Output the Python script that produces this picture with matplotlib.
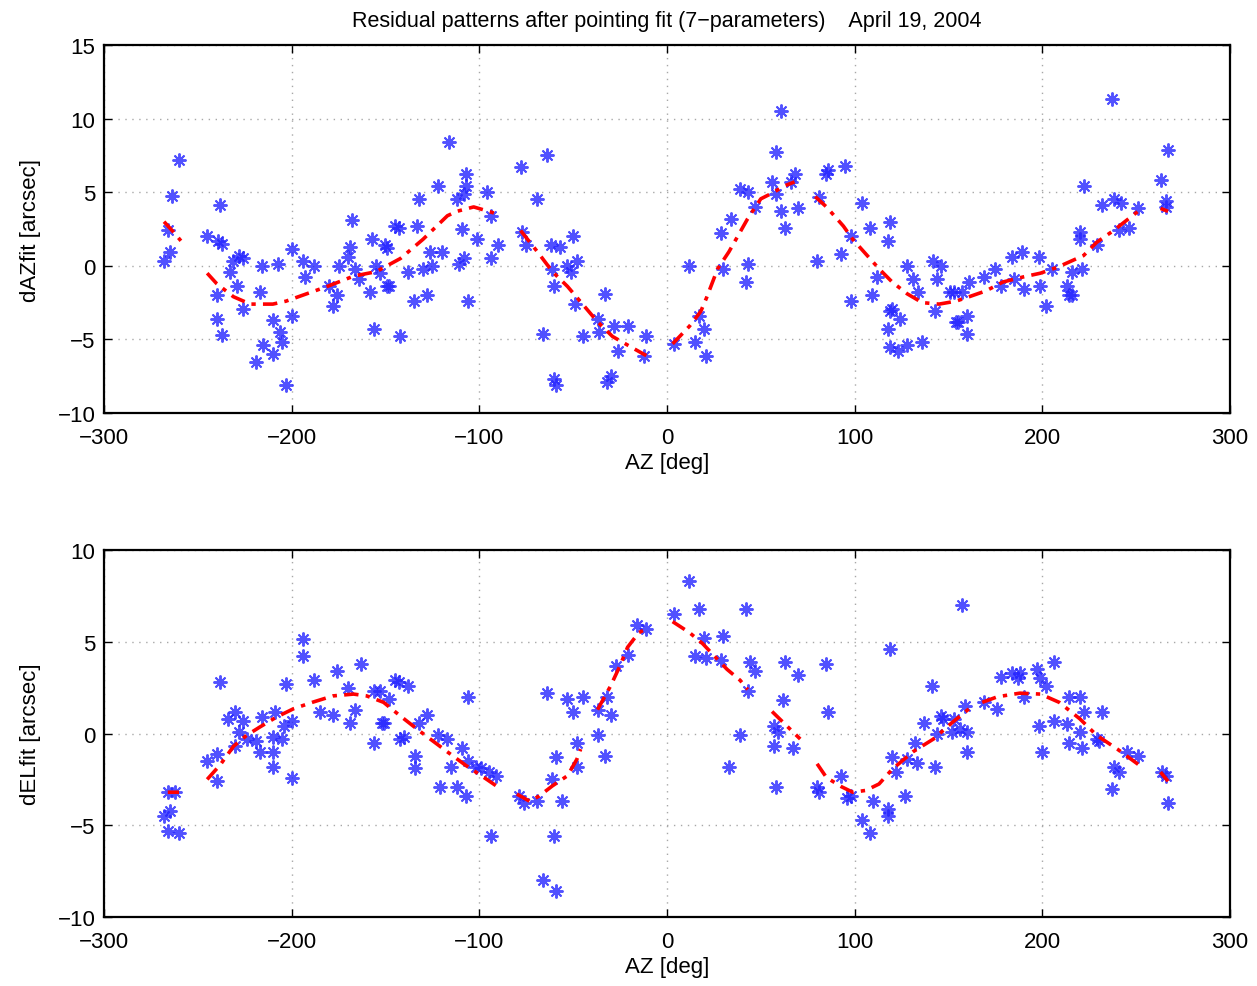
import numpy as np
import matplotlib.pyplot as plt

plt.rcParams['font.family'] = ['Liberation Sans', 'DejaVu Sans']

# residuos en azimut (panel superior)
az_top = [-260, -264, -266, -265, -268, -238, -245, -239, -237, -240, -240, -237,
          -229, -228, -231, -233, -226, -226, -217, -216, -219, -215, -210, -210,
          -207, -206, -205, -200, -203, -200, -194, -193, -188, -178, -176, -180,
          -175, -168, -169, -170, -166, -164, -158, -157, -155, -153, -150, -149,
          -156, -145, -142, -148, -143, -149, -135, -138, -132, -133, -130, -128,
          -126, -125, -122, -120, -116, -112, -111, -109, -108, -107, -107, -108,
          -106, -101, -96, -94, -94, -90, -78, -64, -69, -77, -75, -62, -57, -50,
          -61, -53, -48, -51, -60, -49, -66, -59, -60, -45, -37, -33, -36, -28,
          -21, -26, -32, -30, -11, -12, 4,
          12, 17, 20, 15, 21, 30, 29, 34, 39, 43, 47, 43, 42, 58, 61, 56, 58, 61,
          63, 68, 66, 70, 80, 81, 85, 86, 95, 93, 98, 98, 104, 108, 109, 112, 118,
          119, 119, 120, 118, 119, 123, 128, 124, 128, 131, 134, 136, 142, 146,
          144, 143, 151, 154, 153, 157, 155, 160, 160, 161, 169, 175, 178, 184,
          189, 185, 190, 198, 199, 202, 205, 213, 214, 216, 216, 221, 220, 220,
          222, 229, 232, 237, 238, 242, 241, 246, 251, 263, 267, 266, 266]
daz_top = [7.2, 4.75, 2.4, 0.95, 0.3, 4.1, 2.0, 1.7, 1.5, -2.0, -3.6, -4.7,
           -1.4, 0.7, 0.3, -0.4, 0.5, -2.9, -1.8, 0.0, -6.5, -5.4, -6.0, -3.7,
           0.1, -4.5, -5.2, -3.4, -8.1, 1.15, 0.35, -0.75, 0.0, -2.7, -2.0, -1.4,
           0.0, 3.1, 1.3, 0.6, -0.2, -0.9, -1.8, 1.8, 0.0, -0.5, 1.4, -1.4,
           -4.3, 2.7, -4.8, -1.4, 2.6, 1.2, -2.4, -0.4, 4.55, 2.7, -0.2, -2.0,
           0.95, 0.0, 5.4, 0.95, 8.4, 4.55, 0.1, 2.5, 0.5, 6.25, 5.4, 4.9,
           -2.4, 1.8, 5.0, 3.4, 0.5, 1.4, 6.7, 7.5, 4.55, 2.3, 1.4, 1.4, 1.3, 2.0,
           -0.2, 0.0, 0.3, -0.4, -1.4, -2.6, -4.6, -8.1, -7.7, -4.8, -3.6, -1.9, -4.5, -4.1,
           -4.1, -5.8, -7.9, -7.5, -4.8, -6.1, -5.3,
           0.0, -3.4, -4.3, -5.2, -6.1, -0.2, 2.2, 3.2, 5.2, 5.0, 4.0, 0.1, -1.1, 7.7, 10.5, 5.7, 4.9, 3.7,
           2.6, 6.25, 5.7, 3.9, 0.3, 4.7, 6.25, 6.5, 6.8, 0.8, 2.0, -2.4, 4.3, 2.6, -2.0, -0.75, 1.7,
           3.0, -3.1, -2.9, -4.3, -5.5, -5.8, -5.4, -3.6, 0.0, -0.9, -1.8, -5.2, 0.3, 0.0,
           -0.9, -3.1, -1.8, -3.8, -1.8, -1.8, -3.8, -3.4, -4.6, -1.1, -0.75, -0.2, -1.4, 0.6,
           0.95, -0.9, -1.6, 0.6, -1.4, -2.7, -0.2, -1.4, -2.0, -2.0, -0.4, -0.2, 2.3, 1.8,
           5.4, 1.4, 4.1, 11.3, 4.55, 4.3, 2.4, 2.6, 3.9, 5.8, 7.9, 4.4, 4.0]

# curva del ajuste (panel superior), NaN separa los tramos
az_fit_top = [-268, -263, -259, np.nan,
              -245, -240, -231, -222, -210, -203, -192, -181, -167, -155, -142,
              -130, -117, -112, -103, -95, -90, np.nan,
              -78, -69, -61, -53, -45, -37, -29, -18, -11, np.nan,
              3, 12, 18, 21, 27, 33, 39, 43, 50, 57, 62, 68, np.nan,
              79, 85, 94, 99, 106, 113, 120, 128, 136, 145, 154, 161, 170, 179,
              190, 199, 208, 222, 229, 238, 246, 251, np.nan,
              263, 267]
daz_fit_top = [3.0, 2.3, 1.7, np.nan,
               -0.5, -1.2, -2.1, -2.6, -2.6, -2.4, -1.9, -1.4, -0.7, -0.4, 0.5,
               1.8, 3.4, 3.7, 4.0, 3.7, 3.5, np.nan,
               2.4, 0.95, -0.4, -1.4, -2.6, -3.8, -4.8, -5.6, -6.1, np.nan,
               -5.3, -4.1, -3.1, -2.2, -0.2, 0.95, 2.3, 3.2, 4.55, 5.0, 5.4, 5.7, np.nan,
               4.7, 4.0, 2.7, 1.8, 0.8, -0.2, -1.1, -1.9, -2.5, -2.6, -2.4, -2.1, -1.7, -1.1,
               -0.75, -0.5, -0.1, 0.7, 1.6, 2.4, 3.2, 3.7, np.nan,
               3.9, 3.7]

# residuos en elevación (panel inferior)
az_bot = [-266, -265, -268, -266, -260, -262, -240, -245, -240, -238, -234, -230,
          -226, -228, -230, -224, -219, -217, -216, -210, -210, -210, -209, -205,
          -204, -203, -200, -200, -194, -194, -188, -185, -178, -176, -170, -169,
          -166, -163, -156, -152, -156, -148, -145, -142, -153, -143, -138, -151,
          -140, -134, -134, -132, -128, -122, -117, -121, -115, -112, -109, -106,
          -106, -107, -102, -99, -95, -91, -94, -79, -76, -69, -64, -61, -59, -56,
          -60, -66, -59, -53, -50, -48, -45, -48, -37, -37, -30, -33, -32, -27,
          -21, -16, -11, 4,
          12, 17, 42, 20, 15, 21, 30, 29, 43, 44, 47, 63, 70, 62, 85, 86, 39, 33,
          57, 59, 57, 67, 58, 80, 81, 93, 96, 98, 104, 108, 110, 118, 118, 119,
          120, 122, 127, 128, 133, 132, 137, 141, 143, 144, 147, 152, 157,
          146, 153, 156, 160, 159, 160, 169, 176, 178, 184, 188, 187, 190, 197,
          199, 206, 202, 198, 200, 206, 213, 214, 220, 222, 220, 214, 221, 232,
          229, 230, 238, 241, 237, 245, 251, 264, 266, 267]
del_bot = [-3.2, -4.2, -4.5, -5.3, -5.4, -3.2, -2.6, -1.5, -1.1, 2.8, 0.8, 1.2,
           0.7, 0.1, -0.7, -0.3, -0.4, -1.0, 0.9, -0.2, -1.0, -1.8, 1.2, -0.3,
           0.4, 2.7, 0.7, -2.4, 5.15, 4.2, 2.9, 1.2, 1.0, 3.4, 2.5, 0.6,
           1.3, 3.8, 2.3, 0.6, -0.5, 1.9, 2.9, -0.3, 2.3, 2.8, 2.6, 0.6,
           -0.2, -1.2, -1.9, 0.6, 1.0, -0.1, -0.3, -2.9, -1.8, -2.9, -0.8, 2.0,
           -1.5, -3.4, -1.8, -1.9, -2.1, -2.3, -5.6, -3.4, -3.8, -3.7, 2.2, -2.5, -1.3, -3.7,
           -5.6, -8.0, -8.6, 1.9, 1.2, -0.5, 2.0, -1.8, 1.3, -0.1, 1.0, -1.2, 2.0, 3.7,
           4.3, 5.9, 5.7, 6.5,
           8.3, 6.8, 6.8, 5.2, 4.2, 4.1, 5.3, 4.0, 2.3, 3.9, 3.4, 3.9, 3.2, 1.8, 3.8, 1.2, -0.1, -1.8,
           0.4, 0.1, -0.7, -0.8, -2.9, -2.9, -3.2, -2.3, -3.5, -3.4, -4.7, -5.4, -3.7, -4.1, -4.5, 4.6,
           -1.3, -2.1, -3.4, -1.4, -1.6, -0.5, 0.6, 2.6, -1.8, 0.0, 0.8, 0.1, 7.0,
           0.95, 0.8, 0.25, 0.1, 1.5, -1.0, 1.7, 1.35, 3.1, 3.3, 3.3, 3.0, 2.0, 3.5,
           3.0, 3.9, 2.6, 0.4, -1.0, 0.7, 0.5, 2.0, 2.0, 1.2, 0.1, -0.5, -0.8, 1.2,
           -0.3, -0.4, -1.8, -2.1, -3.0, -1.0, -1.2, -2.1, -2.3, -3.8]

# curva del ajuste (panel inferior)
az_fit_bot = [-266, -260, np.nan,
              -245, -238, -231, -224, -217, -208, -199, -189, -178, -167, -160,
              -151, -142, -132, -117, -107, -96, -91, np.nan,
              -80, -73, -68, -61, -53, -48, -46, np.nan,
              -37, -30, -25, -21, -15, -11, np.nan,
              3, 12, 19, 32, 39, 43, np.nan,
              56, 64, 71, np.nan,
              80, 85, 93, 99, 106, 113, 120, 131, 142, 152, 161, np.nan,
              168, 176, 188, 199, 209, 220, 229, 240, 252, np.nan,
              263, 267]
del_fit_bot = [-3.2, -3.2, np.nan,
               -2.5, -1.7, -0.7, -0.1, 0.35, 0.9, 1.35, 1.7, 2.05, 2.15, 2.05,
               1.7, 0.95, 0.15, -1.0, -1.75, -2.5, -2.85, np.nan,
               -3.3, -3.7, -3.4, -2.85, -2.3, -1.4, -0.85, np.nan,
               1.3, 2.6, 3.7, 4.7, 5.5, 5.7, np.nan,
               6.1, 5.5, 4.9, 3.5, 2.9, 2.4, np.nan,
               1.2, 0.4, -0.3, np.nan,
               -1.65, -2.4, -2.9, -3.2, -3.1, -2.75, -1.95, -1.0, -0.3, 0.6, 1.35, np.nan,
               1.7, 2.0, 2.2, 2.15, 1.7, 0.8, -0.1, -0.85, -1.75, np.nan,
               -2.1, -2.6]

fig = plt.figure(figsize=(12.57, 9.87), dpi=100)
ax1 = fig.add_axes([0.0827, 0.5805, 0.8958, 0.3729])
ax2 = fig.add_axes([0.0827, 0.0699, 0.8958, 0.3718])

azul = (0.15, 0.15, 1.0)
estrella = (8, 2, 0)

def estilo(ax, ylim, yticks, ylabel):
    ax.set_xlim(-300, 300)
    ax.set_ylim(*ylim)
    ax.set_xticks(np.arange(-300, 301, 100))
    ax.set_yticks(yticks)
    ax.grid(True, linestyle=(0, (1, 4)), color='#a8a8a8', linewidth=1.0)
    ax.tick_params(direction='in', top=True, right=True, length=6, width=1.0,
                   labelsize=16)
    ax.tick_params(axis='x', pad=10)
    ax.tick_params(axis='y', pad=6)
    for s in ax.spines.values():
        s.set_linewidth(1.6)
    ax.set_xlabel('AZ [deg]', fontsize=16, labelpad=3)
    ax.set_ylabel(ylabel, fontsize=16, labelpad=12)

ax1.plot(az_top, daz_top, linestyle='none', marker=estrella, markersize=10,
         markeredgewidth=1.4, color=azul, alpha=0.8)
ax1.plot(az_fit_top, daz_fit_top, color='red', linestyle=(0, (4, 2, 1.2, 2)), linewidth=2.6)
estilo(ax1, (-10, 15), np.arange(-10, 16, 5), 'dAZfit [arcsec]')
ax1.set_title('Residual patterns after pointing fit (7\u2212parameters)    April 19, 2004',
              fontsize=15.5, pad=14)

ax2.plot(az_bot, del_bot, linestyle='none', marker=estrella, markersize=10,
         markeredgewidth=1.4, color=azul, alpha=0.8)
ax2.plot(az_fit_bot, del_fit_bot, color='red', linestyle=(0, (4, 2, 1.2, 2)), linewidth=2.6)
estilo(ax2, (-10, 10), np.arange(-10, 11, 5), 'dELfit [arcsec]')

fig.savefig('out.png', dpi=100)
